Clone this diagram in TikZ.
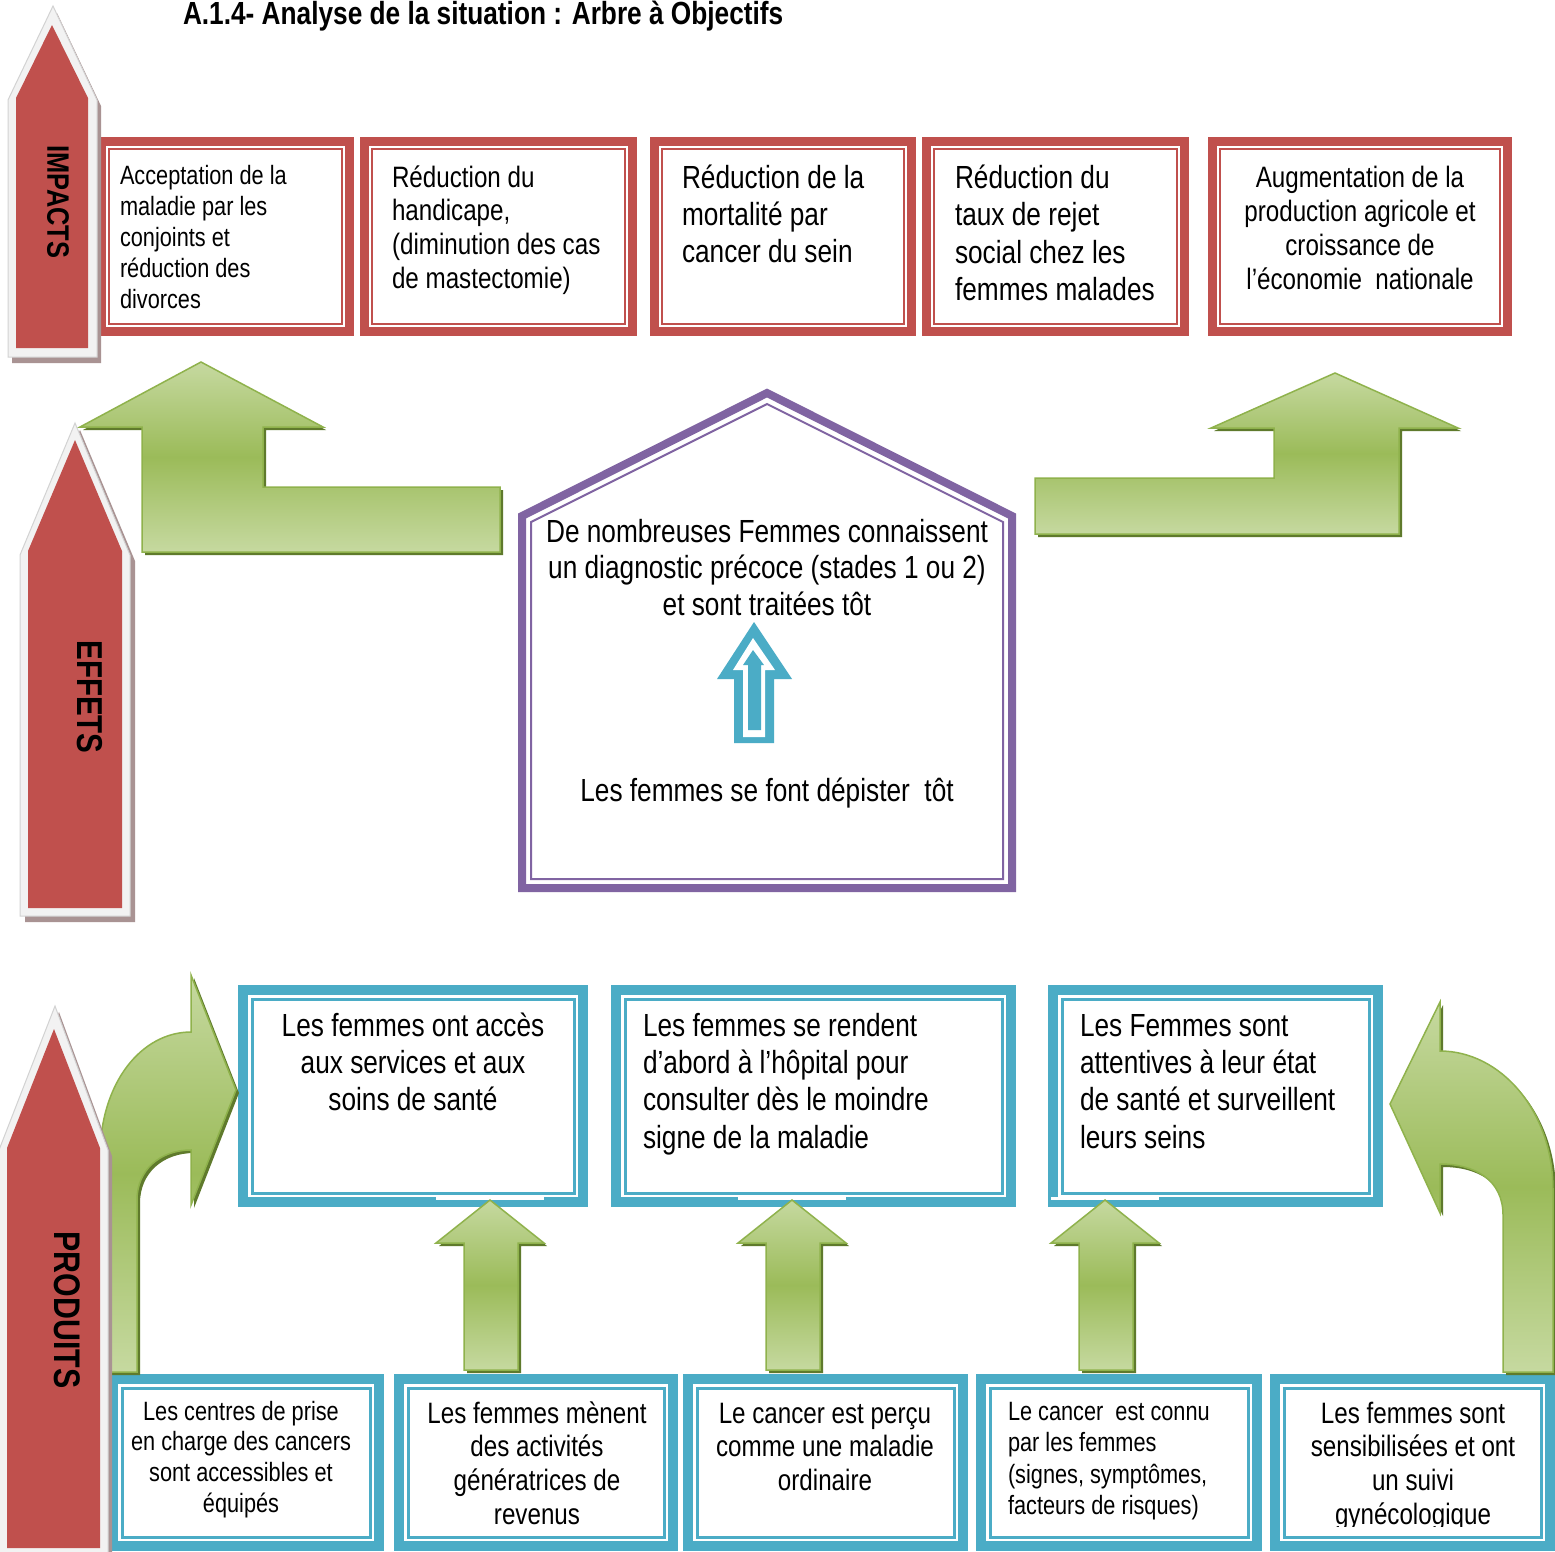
\documentclass[tikz,border=0pt]{standalone}
\usepackage{fontspec}
\setmainfont{Liberation Sans}[FakeStretch=0.82]
\usetikzlibrary{calc}
\definecolor{cred}{HTML}{C0504D}
\definecolor{cblue}{HTML}{4BACC6}
\definecolor{cpurple}{HTML}{8064A2}
\definecolor{gmid}{HTML}{9BBB59}
\definecolor{glight}{HTML}{C6D9A0}
\definecolor{gdark}{HTML}{5F7A2C}
\definecolor{gedge}{HTML}{8FB24C}
\definecolor{bwhite}{HTML}{F2F2F2}
\definecolor{bedge}{HTML}{D2D2D2}
\definecolor{shadowc}{HTML}{A99393}
\newcommand\fs[2]{\fontsize{#1}{#2}\selectfont}
\tikzset{
  rframe/.style={draw=cred, line width=9pt, inner sep=0pt, outer sep=0pt, fill=white},
  rthin/.style={draw=cred, line width=2pt},
  bframe/.style={draw=cblue, line width=10pt, inner sep=0pt, outer sep=0pt, fill=white},
  bthin/.style={draw=cblue, line width=3pt},
  txt/.style={inner sep=0pt, outer sep=0pt},
  lbl/.style={inner sep=0pt, outer sep=0pt, rotate=-90, font=\bfseries},
  gshadow/.style={fill=gdark},
  gshape/.style={top color=glight, bottom color=glight, middle color=gmid, draw=gedge, line width=1.5pt, line join=miter},
  arrshadow/.style={fill=shadowc},
  arrborder/.style={fill=bwhite, draw=bedge, line width=1pt},
  arrred/.style={fill=cred},
}
% name, x1, y1, x2, y2 (outer edges)
\newcommand\redbox[5]{%
  \node[rframe, minimum width={(#4-#2-9)*1pt}, minimum height={(#5-#3-9)*1pt}] (#1) at ({(#2+#4)/2},{(#3+#5)/2}) {};
  \draw[rthin] ($(#1.north west)+(7.5,7.5)$) rectangle ($(#1.south east)+(-7.5,-7.5)$);}
\newcommand\bluebox[5]{%
  \node[bframe, minimum width={(#4-#2-10)*1pt}, minimum height={(#5-#3-10)*1pt}] (#1) at ({(#2+#4)/2},{(#3+#5)/2}) {};
  \draw[bthin] ($(#1.north west)+(9,9)$) rectangle ($(#1.south east)+(-9,-9)$);}
\begin{document}
\begin{tikzpicture}[x=1pt,y=-1pt]
\useasboundingbox (0,0) rectangle (1555,1551);
\fill[white] (0,0) rectangle (1555,1551);

% ---------- title
\node[txt, anchor=base west, font=\bfseries\fs{32}{36}] (title) at (183,24) {A.1.4- Analyse de la situation : Arbre à Objectifs};

% ---------- IMPACTS row
\redbox{b1}{97}{137}{354}{336}
\redbox{b2}{360}{137}{637}{336}
\redbox{b3}{650}{137}{916}{336}
\redbox{b4}{922}{137}{1189}{336}
\redbox{b5}{1208}{137}{1512}{336}

\node[txt, anchor=base west] (t1) at (120,184) {\parbox[t]{220pt}{\raggedright\fs{26.5}{31}Acceptation de la\\maladie par les\\conjoints et\\réduction des\\divorces}};
\node[txt, anchor=base west] (t2) at (392,187) {\parbox[t]{235pt}{\raggedright\fs{29.5}{33.7}Réduction du\\handicape,\\(diminution des cas\\de mastectomie)}};
\node[txt, anchor=base west] (t3) at (682,188) {\parbox[t]{225pt}{\raggedright\fs{32}{37}Réduction de la\\mortalité par\\cancer du sein}};
\node[txt, anchor=base west] (t4) at (955,188) {\parbox[t]{225pt}{\raggedright\fs{32}{37.5}Réduction du\\taux de rejet\\social chez les\\femmes malades}};
\node[txt, anchor=base] (t5) at (1360,187) {\parbox[t]{280pt}{\centering\fs{29.5}{34}Augmentation de la\\production agricole et\\croissance de\\l’économie~~nationale}};

% ---------- IMPACTS arrow
\fill[arrshadow] (12,106) -- (57,13) -- (101,106) -- (101,363) -- (12,363) -- cycle;
\path[arrborder] (8,100) -- (53,6) -- (97,100) -- (97,357) -- (8,357) -- cycle;
\fill[arrred] (16,98) -- (52,25) -- (88,98) -- (88,348) -- (16,348) -- cycle;
\node[lbl, font=\bfseries\fs{31}{36}] (limp) at (58,202) {IMPACTS};

% ---------- green L arrows (effects -> impacts)
\fill[gshadow] (145,555) -- (145,430) -- (83,430) -- (204,365) -- (326,430) -- (266,430) -- (266,490) -- (503,490) -- (503,555) -- cycle;
\path[gshape] (142,552) -- (142,427) -- (80,427) -- (201,362) -- (323,427) -- (263,427) -- (263,487) -- (500,487) -- (500,552) -- cycle;

\fill[gshadow] (1038,537) -- (1038,481) -- (1277,481) -- (1277,431) -- (1214,431) -- (1338,376) -- (1461,431) -- (1402,431) -- (1402,537) -- cycle;
\path[gshape] (1035,534) -- (1035,478) -- (1274,478) -- (1274,428) -- (1211,428) -- (1335,373) -- (1458,428) -- (1399,428) -- (1399,534) -- cycle;

% ---------- EFFETS arrow
\fill[arrshadow] (25,561) -- (80,430) -- (135,561) -- (135,922) -- (25,922) -- cycle;
\path[arrborder] (20,555) -- (75,423) -- (130,555) -- (130,916) -- (20,916) -- cycle;
\fill[arrred] (28,551) -- (75,440) -- (122,551) -- (122,908) -- (28,908) -- cycle;
\node[lbl, font=\bfseries\fs{36}{40}] (leff) at (90,697) {EFFETS};

% ---------- house
\draw[cpurple, line width=8pt, line join=miter] (522,888) -- (522,516) -- (767,393) -- (1012,516) -- (1012,888) -- cycle;
\draw[cpurple, line width=2pt, line join=miter] (531,879) -- (531,522) -- (767,404) -- (1003,522) -- (1003,879) -- cycle;
\node[txt, anchor=base] (h1) at (767,542) {\parbox[t]{475pt}{\centering\fs{32}{36.5}De nombreuses Femmes connaissent\\un diagnostic précoce (stades 1 ou 2)\\et sont traitées tôt}};
\node[txt, anchor=base] (h2) at (767,801) {\fs{32}{36}Les femmes se font dépister~~tôt};
% blue hollow arrow
\fill[cblue] (734,743) -- (734,679) -- (717,679) -- (754,622) -- (792,679) -- (774,679) -- (774,743) -- cycle;
\fill[white] (743,737) -- (743,670) -- (733,670) -- (753,638) -- (775,670) -- (765,670) -- (765,737) -- cycle;
\fill[cblue] (748,730) -- (748,665) -- (743,665) -- (753,650) -- (764,665) -- (761,665) -- (761,730) -- cycle;

% ---------- PRODUITS upper row
\bluebox{p1}{238}{985}{588}{1207}
\bluebox{p2}{611}{985}{1016}{1207}
\bluebox{p3}{1048}{985}{1383}{1207}
\node[txt, anchor=base] (pt1) at (413,1036) {\parbox[t]{320pt}{\centering\fs{32}{37.4}Les femmes ont accès\\aux services et aux\\soins de santé}};
\node[txt, anchor=base west] (pt2) at (643,1036) {\parbox[t]{350pt}{\raggedright\fs{32}{37.4}Les femmes se rendent\\d’abord à l’hôpital pour\\consulter dès le moindre\\signe de la maladie}};
\node[txt, anchor=base west] (pt3) at (1080,1036) {\parbox[t]{290pt}{\raggedright\fs{32}{37.4}Les Femmes sont\\attentives à leur état\\de santé et surveillent\\leurs seins}};

% ---------- bottom row
\bluebox{q1}{108}{1374}{384}{1551}
\bluebox{q2}{394}{1374}{678}{1551}
\bluebox{q3}{683}{1374}{968}{1551}
\bluebox{q4}{976}{1374}{1262}{1551}
\bluebox{q5}{1270}{1374}{1555}{1551}
\node[txt, anchor=base] (qt1) at (241,1420) {\parbox[t]{250pt}{\centering\fs{26.5}{30.7}Les centres de prise\\en charge des cancers\\sont accessibles et\\équipés}};
\node[txt, anchor=base] (qt2) at (537,1423) {\parbox[t]{260pt}{\centering\fs{29.5}{33.7}Les femmes mènent\\des activités\\génératrices de\\revenus}};
\node[txt, anchor=base] (qt3) at (825,1423) {\parbox[t]{260pt}{\centering\fs{29.5}{33.7}Le cancer est perçu\\comme une maladie\\ordinaire}};
\node[txt, anchor=base west] (qt4) at (1008,1420) {\parbox[t]{250pt}{\raggedright\fs{26.5}{31.5}Le cancer~~est connu\\par les femmes\\(signes, symptômes,\\facteurs de risques)}};
\begin{scope}
\clip (1283,1385) rectangle (1545,1526);
\node[txt, anchor=base] (qt5) at (1413,1423) {\parbox[t]{260pt}{\centering\fs{29.5}{33.7}Les femmes sont\\sensibilisées et ont\\un suivi\\gynécologique}};
\end{scope}

% ---------- green up arrows
\fill[white] (436,1196.5) rectangle (544,1200);
\fill[gshadow] (467,1373) -- (467,1246) -- (439,1246) -- (493,1203) -- (547,1246) -- (521,1246) -- (521,1373) -- cycle;
\path[gshape] (464,1370) -- (464,1243) -- (436,1243) -- (490,1200) -- (544,1243) -- (518,1243) -- (518,1370) -- cycle;

\fill[white] (738,1196.5) rectangle (846,1200);
\fill[gshadow] (769,1373) -- (769,1246) -- (741,1246) -- (795,1203) -- (849,1246) -- (823,1246) -- (823,1373) -- cycle;
\path[gshape] (766,1370) -- (766,1243) -- (738,1243) -- (792,1200) -- (846,1243) -- (820,1243) -- (820,1370) -- cycle;

\fill[white] (1051,1196.5) rectangle (1159,1200);
\fill[gshadow] (1082,1373) -- (1082,1246) -- (1054,1246) -- (1108,1203) -- (1162,1246) -- (1136,1246) -- (1136,1373) -- cycle;
\path[gshape] (1079,1370) -- (1079,1243) -- (1051,1243) -- (1105,1200) -- (1159,1243) -- (1133,1243) -- (1133,1370) -- cycle;

% ---------- curved arrows
\fill[gshadow] (103,1375) -- (103,1160) .. controls (103,1085) and (145,1035) .. (194,1035) -- (194,978) -- (239,1093) -- (194,1208) -- (194,1153) .. controls (163,1153) and (140,1173) .. (140,1203) -- (140,1375) -- cycle;
\path[gshape] (100,1372) -- (100,1157) .. controls (100,1082) and (142,1032) .. (191,1032) -- (191,975) -- (236,1090) -- (191,1205) -- (191,1150) .. controls (160,1150) and (137,1170) .. (137,1200) -- (137,1372) -- cycle;

\fill[gshadow] (1556,1375) -- (1556,1193) .. controls (1556,1113) and (1503,1054) .. (1443,1054) -- (1443,1005) -- (1393,1107) -- (1443,1216) -- (1443,1167) .. controls (1478,1167) and (1506,1183) .. (1506,1218) -- (1506,1375) -- cycle;
\path[gshape] (1553,1372) -- (1553,1190) .. controls (1553,1110) and (1500,1051) .. (1440,1051) -- (1440,1002) -- (1390,1104) -- (1440,1213) -- (1440,1164) .. controls (1475,1164) and (1503,1180) .. (1503,1215) -- (1503,1372) -- cycle;

% ---------- PRODUITS arrow
\fill[arrshadow] (3,1156) -- (59,1012) -- (112,1156) -- (112,1560) -- (3,1560) -- cycle;
\path[arrborder] (-1,1150) -- (55,1006) -- (108,1150) -- (108,1560) -- (-1,1560) -- cycle;
\fill[arrred] (7,1148) -- (54,1029) -- (100,1148) -- (100,1548) -- (7,1548) -- cycle;
\node[lbl, font=\bfseries\fs{37}{40}] (lprod) at (67,1310) {PRODUITS};
\end{tikzpicture}
\end{document}
